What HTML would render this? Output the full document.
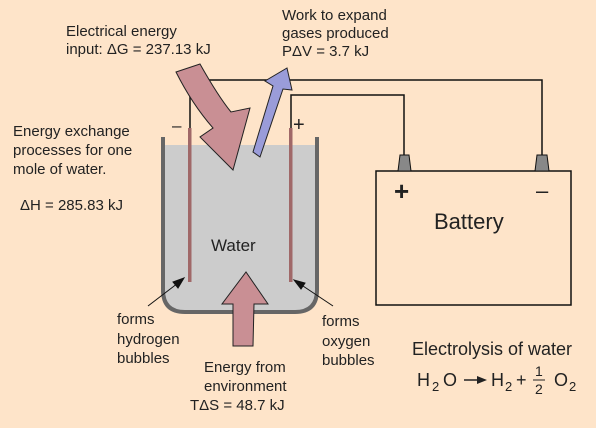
<!DOCTYPE html>
<html><head><meta charset="utf-8"><style>
html,body{margin:0;padding:0;background:#fee4c9;}
svg{display:block;font-family:"Liberation Sans",sans-serif;}
text{fill:#222;}
</style></head><body>
<svg width="596" height="428" viewBox="0 0 596 428" font-size="15">
<rect width="596" height="428" fill="#fee4c9"/>
<g>
<path d="M163,145 L317,145 L317,290 Q317,312 295,312 L185,312 Q163,312 163,290 Z" fill="#cccccc"/>
<path d="M163,137 L163,290 Q163,312 185,312 L295,312 Q317,312 317,290 L317,137" fill="none" stroke="#666" stroke-width="4"/>
</g>
<g stroke="#111" stroke-width="1.5" fill="none">
<path d="M190,128 L190,80 L542,80 L542,155"/>
<path d="M291,128 L291,95 L404,95 L404,155"/>
</g>
<rect x="188" y="128" width="3.5" height="154" fill="#a06868"/>
<rect x="289" y="128" width="3.5" height="154" fill="#a06868"/>
<text x="172" y="131" font-size="17">–</text>
<text x="293" y="131" font-size="20">+</text>
<path d="M176,72 L200,64 Q218,96 231,112 L250,108 L233,170 L200,137 L213,128 Q192,104 176,72 Z" fill="#c98f94" stroke="#222" stroke-width="1"/>
<path d="M253,152 L273,86 L265,81 L287,68 L292,90 L283,89 L260,157 Z" fill="#9a9cd9" stroke="#222" stroke-width="1"/>
<path d="M233,346 L233,304 L222,304 L246,272 L268,304 L254,304 L253,346 Z" fill="#c98f94" stroke="#222" stroke-width="1"/>
<g>
<rect x="376" y="171" width="195" height="134" fill="none" stroke="#111" stroke-width="1.5"/>
<path d="M398,171 L400,155 L409,155 L411,171 Z" fill="#888" stroke="#111" stroke-width="1"/>
<path d="M535,171 L537,155 L547,155 L549,171 Z" fill="#888" stroke="#111" stroke-width="1"/>
<text x="394" y="200" font-size="26" font-weight="bold">+</text>
<text x="536" y="198" font-size="22">–</text>
<text x="434" y="229" font-size="22">Battery</text>
</g>
<text x="211" y="251" font-size="17">Water</text>
<text><tspan x="66" y="36">Electrical energy</tspan><tspan x="66" y="54">input: ΔG = 237.13 kJ</tspan></text>
<text><tspan x="282" y="20">Work to expand</tspan><tspan x="282" y="38">gases produced</tspan><tspan x="282" y="56">PΔV = 3.7 kJ</tspan></text>
<text><tspan x="13" y="136">Energy exchange</tspan><tspan x="13" y="155">processes for one</tspan><tspan x="13" y="174">mole of water.</tspan><tspan x="20" y="210">ΔH = 285.83 kJ</tspan></text>
<g stroke="#111" stroke-width="1">
<line x1="148" y1="306" x2="182" y2="280"/><path d="M184,278 L173,282 L178,288 Z" fill="#111"/>
<line x1="333" y1="306" x2="297" y2="282"/><path d="M294,280 L301,289 L305,283 Z" fill="#111"/>
</g>
<text><tspan x="117" y="324">forms</tspan><tspan x="117" y="344">hydrogen</tspan><tspan x="117" y="363">bubbles</tspan></text>
<text><tspan x="322" y="326">forms</tspan><tspan x="322" y="346">oxygen</tspan><tspan x="322" y="365">bubbles</tspan></text>
<text><tspan x="204" y="372">Energy from</tspan><tspan x="204" y="391">environment</tspan><tspan x="190" y="410">TΔS = 48.7 kJ</tspan></text>
<text x="412" y="355" font-size="18">Electrolysis of water</text>
<g>
<text x="417" y="386" font-size="18">H</text><text x="432" y="391" font-size="13">2</text><text x="443" y="386" font-size="18">O</text>
<line x1="464" y1="380" x2="480" y2="380" stroke="#222" stroke-width="1.5"/><path d="M487,380 L477,376 L477,384 Z" fill="#222"/>
<text x="491" y="386" font-size="18">H</text><text x="505" y="391" font-size="13">2</text><text x="516" y="386" font-size="18">+</text>
<text x="535" y="376" font-size="14">1</text><line x1="533" y1="380" x2="545" y2="380" stroke="#222"/><text x="535" y="394" font-size="14">2</text>
<text x="554" y="386" font-size="18">O</text><text x="569" y="391" font-size="13">2</text>
</g>
</svg>
</body></html>
